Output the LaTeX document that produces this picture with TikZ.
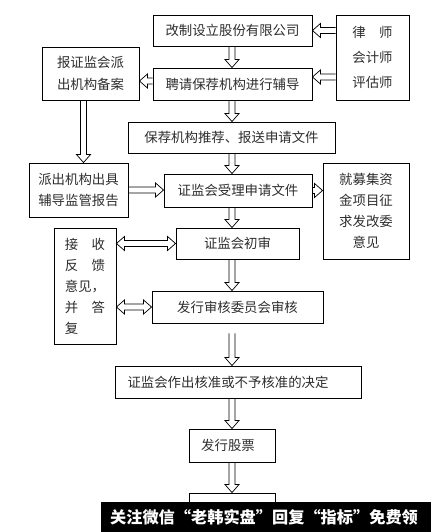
\documentclass[tikz,border=0pt]{standalone}
\usepackage{fontspec}
\setmainfont{Noto Sans CJK SC}
\usetikzlibrary{calc}
\definecolor{boxtext}{RGB}{45,45,45}

\tikzset{
  box/.style={draw, line width=0.9pt, inner sep=0pt, align=center, text=boxtext,
    font=\fontsize{13.4}{21}\selectfont},
  flow/.style={line width=0.7pt, to path={
    ($(\tikztotarget)!8pt!(\tikztostart)$) coordinate (hb)
    ($(\tikztostart)!3pt!90:(\tikztotarget)$) -- ($(hb)!3pt!90:(\tikztotarget)$)
    -- ($(hb)!7pt!90:(\tikztotarget)$) -- (\tikztotarget)
    -- ($(hb)!7pt!-90:(\tikztotarget)$) -- ($(hb)!3pt!-90:(\tikztotarget)$)
    -- ($(\tikztostart)!3pt!-90:(\tikztotarget)$)}},
  twoway/.style={line width=0.7pt, to path={
    ($(\tikztostart)!8pt!(\tikztotarget)$) coordinate (ha)
    ($(\tikztotarget)!8pt!(\tikztostart)$) coordinate (hb)
    ($(ha)!3pt!90:(\tikztotarget)$) -- ($(hb)!3pt!90:(\tikztotarget)$)
    -- ($(hb)!7pt!90:(\tikztotarget)$) -- (\tikztotarget)
    -- ($(hb)!7pt!-90:(\tikztotarget)$) -- ($(hb)!3pt!-90:(\tikztotarget)$)
    -- ($(ha)!3pt!-90:(\tikztotarget)$) -- ($(ha)!7pt!-90:(\tikztotarget)$)
    -- (\tikztostart) -- ($(ha)!7pt!90:(\tikztotarget)$) -- cycle}}
}

\begin{document}
\begin{tikzpicture}[x=1pt,y=-1pt]
        \useasboundingbox (0,0) rectangle (431,532);

        % main column
        \node[box, minimum width=159, minimum height=31] (reform) at (232.5,30.5) {改制设立股份有限公司};
        \node[box, minimum width=159, minimum height=32] (hire) at (232.5,84) {聘请保荐机构进行辅导};
        \node[box, minimum width=207, minimum height=31] (recommend) at (231.5,137.5) {保荐机构推荐、报送申请文件};
        \node[box, minimum width=148, minimum height=33] (accept) at (238,190.5) {证监会受理申请文件};
        \node[box, minimum width=123, minimum height=31] (initial) at (237.5,243.5) {证监会初审};
        \node[box, minimum width=171, minimum height=32] (committee) at (237.5,307) {发行审核委员会审核};
        \node[box, minimum width=246, minimum height=32] (decision) at (238,382) {证监会作出核准或不予核准的决定\hspace*{20pt}};
        \node[box, minimum width=86, minimum height=33] (issue) at (232,445.5) {发行股票\hspace*{8pt}};
        \node[box, minimum width=86, minimum height=37] (last) at (232,511.5) {};

        % side boxes
        \node[box, minimum width=73, minimum height=85, font=\fontsize{13.4}{25}\selectfont] (lawyer) at (372.5,57.5) {律　师\\会计师\\评估师};
        \node[box, minimum width=97, minimum height=53, font=\fontsize{13.4}{22}\selectfont] (filing) at (90.5,73.5) {报证监会派\\出机构备案};
        \node[box, minimum width=99, minimum height=54] (report) at (78.5,190) {派出机构出具\\辅导监管报告};
        \node[box, minimum width=86, minimum height=96] (fund) at (366,211) {就募集资\\金项目征\\求发改委\\意见};
        \node[box, minimum width=62, minimum height=116, align=left] (feedback) at (85,286) {接　收\\反　馈\\意见，\\并　答\\复};

        % arrows
        \coordinate (axis) at (232,0);
        \coordinate (h1) at ([yshift=7pt]hire.east);
        \coordinate (h2) at ([yshift=3pt]hire.west);
        \coordinate (f1) at ([xshift=-7pt]filing.south);
        \coordinate (gap) at ([yshift=-10pt]committee.south);
        \draw[flow] (reform.south -| axis) to (hire.north -| axis);
        \draw[flow] (hire.south -| axis) to (recommend.north -| axis);
        \draw[flow] (recommend.south -| axis) to (accept.north -| axis);
        \draw[flow] (accept.south -| axis) to (initial.north -| axis);
        \draw[flow] (initial.south -| axis) to (committee.north -| axis);
        \draw[flow] (gap -| axis) to (decision.north -| axis);
        \draw[flow] (decision.south -| axis) to (issue.north -| axis);
        \draw[flow] (issue.south -| axis) to (last.north -| axis);
        \draw[flow] (lawyer.west |- reform.east) to (reform.east);
        \draw[flow] (lawyer.west |- h1) to (h1);
        \draw[flow] (h2) to (filing.east |- h2);
        \draw[flow] (f1) to (report.north -| f1);
        \draw[flow] (report.east) to (accept.west |- report.east);
        \draw[flow] (accept.east) to (fund.west |- accept.east);
        \draw[twoway] (feedback.east |- initial.west) to (initial.west);
        \draw[twoway] (feedback.east |- committee.west) to (committee.west);

        % watermark bar
        \fill[black] (101,502) rectangle (431,532);
        \node[text=white, font=\bfseries\fontsize{16.2}{18}\selectfont] (mark) at (264,517) {关注微信“老韩实盘”回复“指标”免费领};
\end{tikzpicture}
\end{document}
